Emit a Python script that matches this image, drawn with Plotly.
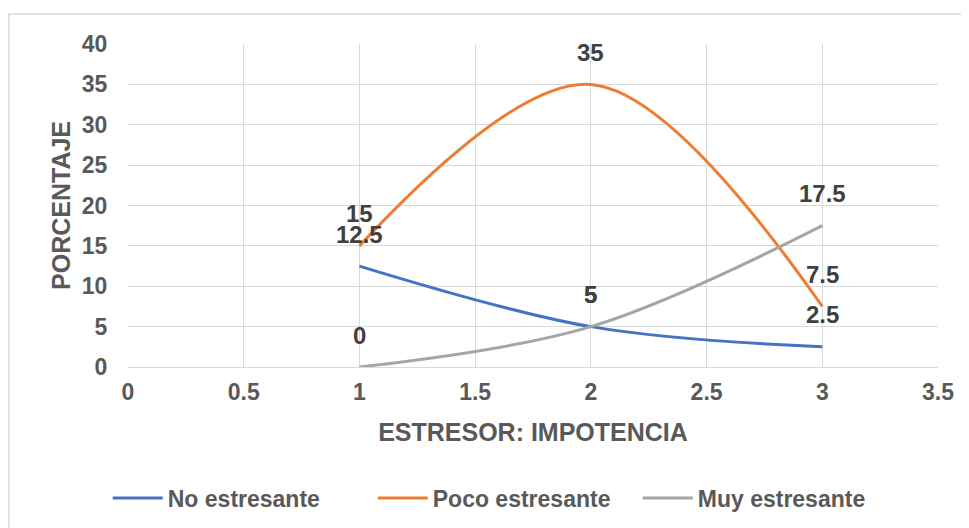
import plotly.graph_objects as go

x_vals = [1, 2, 3]
series_names = ["No estresante", "Poco estresante", "Muy estresante"]
no_estresante = [12.5, 5, 2.5]
poco_estresante = [15, 35, 7.5]
muy_estresante = [0, 5, 17.5]
colors = ["#4472C4", "#ED7D31", "#A5A5A5"]

FONT = "Arial, Liberation Sans, sans-serif"
TXT = "#595959"

fig = go.Figure()
annotations = []
for name, vals, col in zip(series_names, [no_estresante, poco_estresante, muy_estresante], colors):
    fig.add_trace(go.Scatter(
        x=x_vals, y=vals, name=name, mode="lines",
        line=dict(color=col, width=3, shape="spline", smoothing=1.0),
    ))
    for xv, yv in zip(x_vals, vals):
        annotations.append(dict(
            x=xv, y=yv, xref="x", yref="y", text=f"{yv:g}", showarrow=False,
            yshift=32, font=dict(family=FONT, size=24, color="#404040", weight="bold"),
        ))

fig.update_layout(
    width=969, height=528,
    margin=dict(l=120, r=39, t=36, b=169),
    paper_bgcolor="white", plot_bgcolor="white",
    font=dict(family=FONT, color=TXT, size=23, weight="bold"),
    annotations=annotations,
    showlegend=True,
    legend=dict(orientation="h", x=-0.025, xanchor="left", y=-0.406, yanchor="middle",
                font=dict(family=FONT, size=23, color=TXT, weight="bold"),
                itemwidth=50, entrywidth=200, traceorder="normal"),
    xaxis=dict(range=[0, 3.5], dtick=0.5, tick0=0, showgrid=True, gridcolor="#D9D9D9",
               gridwidth=1, zeroline=False, showline=True, linecolor="#D9D9D9",
               ticks="outside", ticklen=4, tickcolor="rgba(0,0,0,0)",
               tickfont=dict(family=FONT, size=23, color=TXT, weight="bold"),
               title=dict(text="ESTRESOR: IMPOTENCIA", standoff=19,
                          font=dict(family=FONT, size=25, color=TXT, weight="bold"))),
    yaxis=dict(range=[0, 40], dtick=5, showgrid=True, gridcolor="#D9D9D9", gridwidth=1,
               zeroline=False, showline=False,
               ticks="outside", ticklen=15, tickcolor="rgba(0,0,0,0)",
               tickfont=dict(family=FONT, size=23, color=TXT, weight="bold"),
               title=dict(text="PORCENTAJE", standoff=4,
                          font=dict(family=FONT, size=25, color=TXT, weight="bold"))),
    shapes=[dict(type="rect", xref="paper", yref="paper", x0=-0.147, x1=1.033,
                 y0=-0.6, y1=1.093, line=dict(color="#D9D9D9", width=1.5),
                 fillcolor="rgba(0,0,0,0)", layer="below")],
)

fig.write_html("out.html")
